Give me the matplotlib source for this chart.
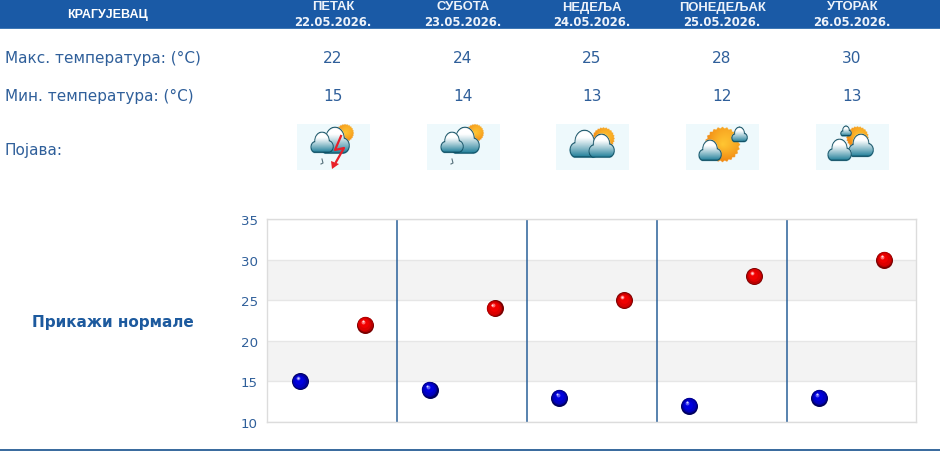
import numpy as np
import matplotlib
matplotlib.use("Agg")
import matplotlib.pyplot as plt
from matplotlib.patches import Rectangle, Polygon
from matplotlib.transforms import offset_copy

station = "КРАГУЈЕВАЦ"
days = ["ПЕТАК", "СУБОТА", "НЕДЕЉА", "ПОНЕДЕЉАК", "УТОРАК"]
dates = ["22.05.2026.", "23.05.2026.", "24.05.2026.", "25.05.2026.", "26.05.2026."]
max_temp = [22, 24, 25, 28, 30]
min_temp = [15, 14, 13, 12, 13]
y_ticks = [10, 15, 20, 25, 30, 35]

TEXT = "#2f5f9a"
HEADER = "#1a5aa6"
col_x = [333, 463, 592, 722, 852]
icon_left = [297, 427, 556, 686, 816]


def cloud_rgba(w):
    # raster cloud: union of circles with flat base, white on top going teal at the bottom
    n = int(w * 5)
    xs, ys = np.meshgrid(np.linspace(-0.5, 0.5, n), np.linspace(-0.42, 0.38, int(n * 0.8)))
    circles = [(-0.27, 0.14, 0.22), (0.0, -0.08, 0.33), (0.27, 0.12, 0.23)]

    def inside(shrink):
        m = np.zeros_like(xs, dtype=bool)
        for cx, cy, r in circles:
            m |= (xs - cx) ** 2 + (ys - cy) ** 2 < (r - shrink) ** 2
        m |= (np.abs(xs) < 0.27 - shrink) & (ys > 0.0)
        return m & (ys < 0.35 - shrink)

    outer = inside(0)
    inner = inside(1.1 / w)
    t = np.clip((ys + 0.2) / 0.55, 0, 1)[..., None] ** 1.1
    rgb = (1 - t) * np.array([1.0, 1.0, 1.0]) + t * np.array([0.08, 0.47, 0.58])
    rgb[outer & ~inner] = [0.05, 0.3, 0.38]
    return np.dstack([rgb, outer.astype(float)])


def sun_rgba(r):
    n = int(r * 10)
    xs, ys = np.meshgrid(np.linspace(-1.1, 1.1, n), np.linspace(-1.1, 1.1, n))
    rad = np.hypot(xs, ys)
    edge = 0.96 + 0.04 * np.cos(np.arctan2(ys, xs) * 24)
    t = np.clip((rad + (ys - xs) * 0.3) / 1.1, 0, 1)[..., None]
    rgb = (1 - t) * np.array([1.0, 0.78, 0.2]) + t * np.array([0.95, 0.55, 0.08])
    return np.dstack([rgb, (rad < edge).astype(float)])


def put_image(ax, img, cx, cy, w, h, z):
    ax.imshow(img, extent=(cx - w / 2, cx + w / 2, cy + h / 2, cy - h / 2),
              aspect="auto", zorder=z, interpolation="antialiased")


def draw_sun(ax, cx, cy, r, z=3):
    put_image(ax, sun_rgba(r), cx, cy, r * 2.2, r * 2.2, z)


def draw_cloud(ax, cx, cy, w, z=4):
    # stretched a bit in height, the base stays where it was
    put_image(ax, cloud_rgba(w), cx, cy - 0.066 * w, w, w * 0.95, z)


fig = plt.figure(figsize=(9.4, 4.52), dpi=100, facecolor="white")

# page overlay in pixel coordinates: header, table and icons
page = fig.add_axes([0, 0, 1, 1])
page.axis("off")
page.add_patch(Rectangle((0, 0), 940, 29, color=HEADER, lw=0))
page.add_patch(Rectangle((0, 28.5), 940, 1.2, color="#3f78b5", lw=0))
page.add_patch(Rectangle((0, 450.3), 940, 1.7, color="#3b6c9f", lw=0))

page.text(107, 15, station, color="white", fontsize=9, ha="center", va="center",
          family="Liberation Sans", fontweight="bold")
for x, day, date in zip(col_x, days, dates):
    page.text(x, 7.5, day, color="#eef3fa", fontsize=9.4, ha="center", va="center",
              family="Liberation Sans", fontweight="bold")
    page.text(x, 22.5, date, color="#eef3fa", fontsize=8.4, ha="center", va="center", fontweight="bold")

page.text(5, 58.5, "Макс. температура: (°C)", color=TEXT, fontsize=10.95, va="center")
page.text(5, 96.5, "Мин. температура: (°C)", color=TEXT, fontsize=10.95, va="center")
page.text(5, 150, "Појава:", color=TEXT, fontsize=10.95, va="center")
for x, hi, lo in zip(col_x, max_temp, min_temp):
    page.text(x, 58.5, str(hi), color=TEXT, fontsize=11.05, ha="center", va="center")
    page.text(x, 96.5, str(lo), color=TEXT, fontsize=11.05, ha="center", va="center")

for left in icon_left:
    page.add_patch(Rectangle((left, 125), 73, 46, color="#eef9fc", lw=0, zorder=1))

# storm icons
for shift in [0, 130]:
    draw_sun(page, 345 + shift, 134, 9)
    draw_cloud(page, 335 + shift, 143.5, 30)
    draw_cloud(page, 322 + shift, 145.6, 24, z=5)
    page.plot([322 + shift, 323 + shift, 321 + shift], [160, 164, 165], color="#55707a", lw=0.8, zorder=5)
page.plot([341, 335, 344, 336], [137, 151, 149, 163], color="#e8202a", lw=1.6, zorder=6)
page.add_patch(Polygon([[331, 162], [339, 165], [332, 170]], color="#e8202a", lw=0, zorder=6))

# partly cloudy
draw_sun(page, 603, 140, 11)
draw_cloud(page, 584.5, 147, 31, z=4)
draw_cloud(page, 601, 148.5, 27, z=5)
# mostly sunny
draw_sun(page, 722, 145.5, 17.5)
draw_cloud(page, 739, 137, 17)
draw_cloud(page, 710, 153.6, 24)
# sunny intervals
draw_sun(page, 857, 139, 11)
draw_cloud(page, 846, 133, 12)
draw_cloud(page, 861, 148, 26)
draw_cloud(page, 839.5, 153, 25)

page.text(113, 322.5, "Прикажи нормале", color="#1d5a9e", fontsize=10.95, fontweight="bold",
          ha="center", va="center")

page.set_xlim(0, 940)
page.set_ylim(452, 0)

# the chart itself
ax = fig.add_axes([267.4 / 940, (452 - 423) / 452, 649 / 940, 203 / 452])
ax.set_xlim(0, 5)
ax.set_ylim(10, 35)
ax.set_yticks(y_ticks)
ax.set_xticks([])
ax.tick_params(axis="y", length=0, pad=7, labelsize=9.6, labelcolor=TEXT)
for spine in ax.spines.values():
    spine.set_color("#dcdcdc")
    spine.set_linewidth(1)
for lo, hi in [(15, 20), (25, 30)]:
    ax.axhspan(lo, hi, color="#f3f3f3", lw=0, zorder=0)
ax.grid(axis="y", color="#e6e6e6", lw=1, zorder=1)
ax.set_axisbelow(True)
for d in range(1, len(days)):
    ax.axvline(d, color="#2a6099", lw=1.1, zorder=2)

x = np.arange(len(days))


def sphere(xs, ys, shades):
    # layered circles, shifted up-left, give the ball look
    for (dx, dy, size, colour) in shades:
        trans = offset_copy(ax.transData, fig=fig, x=dx, y=dy, units="points")
        ax.scatter(xs, ys, s=size, color=colour, linewidths=0, transform=trans, zorder=5, clip_on=False)


blue_shades = [(0, 0, 150, "#00005c"), (-0.15, 0.2, 122, "#000098"), (-0.3, 0.45, 85, "#0000c4"),
               (-0.6, 0.9, 40, "#0000e0"), (-1.4, 2.1, 8, "#5a5af0"), (-1.6, 2.4, 2, "#d0d0ff")]
red_shades = [(0, 0, 150, "#780000"), (-0.15, 0.2, 122, "#b80000"), (-0.3, 0.45, 85, "#dc0000"),
              (-0.6, 0.9, 40, "#f00000"), (-1.4, 2.1, 8, "#ff6a6a"), (-1.6, 2.4, 2, "#ffd8d8")]
sphere(x + 0.25, min_temp, blue_shades)
sphere(x + 0.75, max_temp, red_shades)

fig.savefig("out.png", dpi=100)
